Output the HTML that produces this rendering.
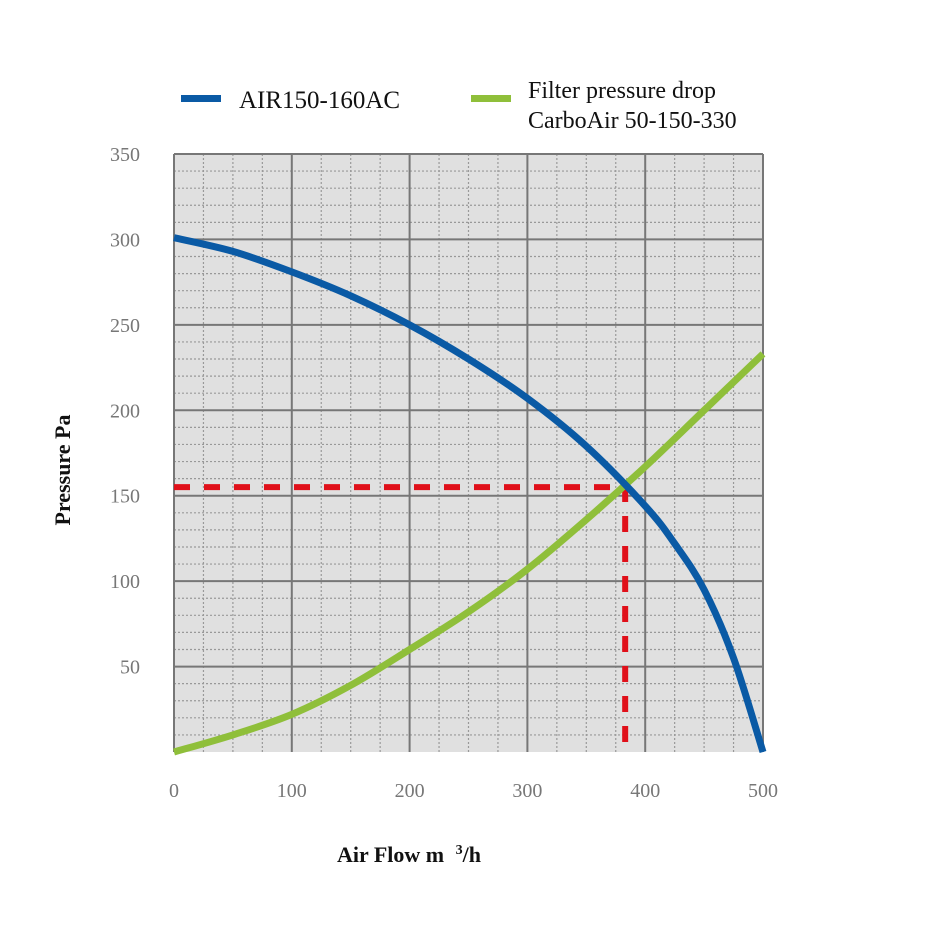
<!DOCTYPE html>
<html><head><meta charset="utf-8"><style>
body{margin:0;background:#fff;width:925px;height:932px;overflow:hidden}
svg{display:block}
text{font-family:"Liberation Serif",serif}
</style></head><body>
<svg id="chart" width="925" height="932">
<rect x="174" y="154" width="589" height="598" fill="#e0e0e0"/>
<g id="grid"></g>
<g id="ticks"></g>
<g id="series"></g>
<g>
<rect x="181" y="95" width="40" height="7" fill="#0a5aa5"/>
<text x="239" y="108" font-size="25" fill="#111">AIR150-160AC</text>
<rect x="471" y="95" width="40" height="7" fill="#8fbf3a"/>
<text x="528" y="98" font-size="24" fill="#111">Filter pressure drop</text>
<text x="528" y="128" font-size="24" fill="#111">CarboAir 50-150-330</text>
</g>
<text x="70" y="470" font-size="22" font-weight="bold" fill="#111" text-anchor="middle" transform="rotate(-90 70 470)">Pressure Pa</text>
<text x="337" y="862" font-size="22" font-weight="bold" fill="#111">Air Flow m <tspan font-size="14" dy="-8" dx="6">3</tspan><tspan dy="8">/h</tspan></text>
</svg>
<script>
const xTicks=[0,100,200,300,400,500];
const yTicks=[50,100,150,200,250,300,350];
const fanFlow=[0,50,100,150,200,250,300,350,400,425,450,475,500];
const fanPressure=[301,293,281,267,250,230,207,179,144,122,95,55,0];
const filterFlow=[0,50,100,150,200,250,300,350,400,450,500];
const filterPressure=[0,10,22,39,60,82,107,136,167,200,233];
const opFlow=[383];
const opPressure=[155];
const X0=174,X1=763,Y0=752,Y1=154;
const sx=v=>X0+(v/500)*(X1-X0);
const sy=v=>Y0-(v/350)*(Y0-Y1);
const NS="http://www.w3.org/2000/svg";
function mk(parent,tag,attrs){const e=document.createElementNS(NS,tag);for(const k in attrs)e.setAttribute(k,attrs[k]);parent.appendChild(e);return e;}
const grid=document.getElementById('grid'),ticks=document.getElementById('ticks'),series=document.getElementById('series');
for(let v=0;v<=500;v+=25){if(v%100===0)continue;const l=mk(grid,'line',{x1:sx(v),x2:sx(v),y1:Y1,y2:Y0,stroke:'#999','stroke-width':1.2,'stroke-dasharray':'2,2'});

}
for(let v=0;v<=350;v+=10){if(v%50===0)continue;const l=mk(grid,'line',{x1:X0,x2:X1,y1:sy(v),y2:sy(v),stroke:'#999','stroke-width':1.2,'stroke-dasharray':'2,2'});

}
xTicks.forEach(v=>{const l=mk(grid,'line',{x1:sx(v),x2:sx(v),y1:Y1,y2:Y0,stroke:'#777','stroke-width':2});


const t=mk(ticks,'text',{x:sx(v),y:797,'font-size':20,fill:'#777','text-anchor':'middle'});t.textContent=v;

});
yTicks.forEach(v=>{const l=mk(grid,'line',{x1:X0,x2:X1,y1:sy(v),y2:sy(v),stroke:'#777','stroke-width':2});


const t=mk(ticks,'text',{x:140,y:sy(v)+7,'font-size':20,fill:'#777','text-anchor':'end'});t.textContent=v;

});
function smooth(xs,ys){const p=xs.map((x,i)=>[sx(x),sy(ys[i])]);let d='M'+p[0][0]+','+p[0][1];
for(let i=0;i<p.length-1;i++){const p0=p[i-1]||p[i],p1=p[i],p2=p[i+1],p3=p[i+2]||p2;
d+=' C'+(p1[0]+(p2[0]-p0[0])/6)+','+(p1[1]+(p2[1]-p0[1])/6)+' '+(p2[0]-(p3[0]-p1[0])/6)+','+(p2[1]-(p3[1]-p1[1])/6)+' '+p2[0]+','+p2[1];}return d;}
const op=mk(series,'path',{d:'M'+sx(0)+','+sy(opPressure[0])+' L'+sx(opFlow[0])+','+sy(opPressure[0])+' L'+sx(opFlow[0])+','+sy(0),fill:'none',stroke:'#e0101a','stroke-width':6,'stroke-dasharray':'16,14'});


const fil=mk(series,'path',{d:smooth(filterFlow,filterPressure),fill:'none',stroke:'#8fbf3a','stroke-width':7});


const fan=mk(series,'path',{d:smooth(fanFlow,fanPressure),fill:'none',stroke:'#0a5aa5','stroke-width':7});


</script>
</body></html>
